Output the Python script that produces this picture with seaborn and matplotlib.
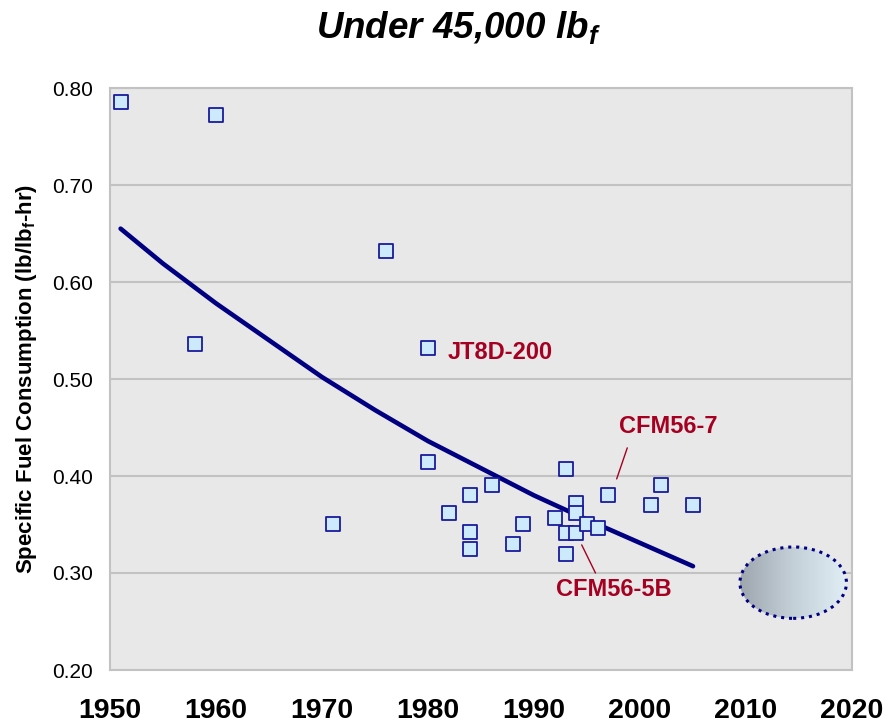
import numpy as np
import pandas as pd
import matplotlib
matplotlib.use("Agg")
import matplotlib.pyplot as plt
import seaborn as sns
from matplotlib.patches import Ellipse
from matplotlib.colors import LinearSegmentedColormap

# ---------------- data ----------------
engine_years = [1951, 1960, 1958, 1971, 1976, 1980, 1980, 1982, 1984, 1984, 1984,
                1986, 1988, 1989, 1992, 1993, 1993, 1993, 1994, 1994, 1994,
                1995, 1996, 1997, 2001, 2002, 2005]
engine_sfc = [0.786, 0.772, 0.536, 0.351, 0.632, 0.532, 0.414, 0.362, 0.380, 0.342, 0.325,
              0.391, 0.330, 0.351, 0.357, 0.407, 0.341, 0.320, 0.372, 0.362, 0.341,
              0.351, 0.346, 0.380, 0.370, 0.391, 0.370]

trend_years = [1951, 1955, 1960, 1965, 1970, 1975, 1980, 1985, 1990, 1995, 2000, 2005]
trend_sfc = [0.655, 0.619, 0.578, 0.540, 0.502, 0.468, 0.436, 0.408, 0.380, 0.355, 0.331, 0.307]

# labelled engines: text, text position, leader line (from, to)
label_names = ["JT8D-200", "CFM56-7", "CFM56-5B"]
label_x = [1981.9, 1998.0, 1992.1]
label_y = [0.527, 0.451, 0.2835]
leader_from = [None, (1997.8, 0.397), (1994.5, 0.329)]
leader_to = [None, (1998.8, 0.429), (1995.8, 0.300)]

# future goal region (centre year, centre sfc, width in years, height in sfc)
goal_x, goal_y, goal_w, goal_h = 2014.45, 0.290, 10.05, 0.0736

x_ticks = [1950, 1960, 1970, 1980, 1990, 2000, 2010, 2020]
y_ticks = [0.20, 0.30, 0.40, 0.50, 0.60, 0.70, 0.80]

df_pts = pd.DataFrame({"Year": engine_years, "SFC": engine_sfc})
df_trend = pd.DataFrame({"Year": trend_years, "SFC": trend_sfc})

# ---------------- plotting ----------------
sns.set_style("white")
plt.rcParams["font.family"] = ["Liberation Sans", "DejaVu Sans"]
plt.rcParams["text.color"] = "black"
plt.rcParams["axes.labelcolor"] = "black"

fig = plt.figure(figsize=(8.88, 7.25), dpi=100)
ax = fig.add_axes([110 / 888, 55 / 725, 742 / 888, 582 / 725])
ax.set_facecolor("#e8e8e8")

sns.lineplot(data=df_trend, x="Year", y="SFC", ax=ax, color="#000080",
             linewidth=3.3, zorder=3)
sns.scatterplot(data=df_pts, x="Year", y="SFC", ax=ax, marker="s", s=95,
                color="#cdeafc", edgecolor="#1a1a9c", linewidth=1.3, zorder=4)

# goal ellipse with left-to-right gradient
ell = Ellipse((goal_x, goal_y), goal_w, goal_h, facecolor="none",
              edgecolor="#000080", linestyle=(0, (1, 1.6)), linewidth=2.2, zorder=5)
ax.add_patch(ell)
grad_cmap = LinearSegmentedColormap.from_list("goal", ["#9ea6ae", "#c4d0d8", "#e2eef6"])
grad = np.linspace(0, 1, 256).reshape(1, -1)
img = ax.imshow(grad, cmap=grad_cmap, aspect="auto", zorder=4,
                extent=[goal_x - goal_w / 2, goal_x + goal_w / 2,
                        goal_y - goal_h / 2, goal_y + goal_h / 2])
img.set_clip_path(ell)

red = "#a50021"
for name, tx, ty, p0, p1 in zip(label_names, label_x, label_y, leader_from, leader_to):
    ax.text(tx, ty, name, color=red, fontsize=17, fontweight="bold",
            ha="left", va="center", zorder=6)
    if p0 is not None:
        ax.plot([p0[0], p1[0]], [p0[1], p1[1]], color=red, linewidth=1.0, zorder=6)

ax.set_xlim(1950, 2020)
ax.set_ylim(0.20, 0.80)
ax.set_xticks(x_ticks)
ax.set_yticks(y_ticks)
ax.set_yticklabels([f"{v:.2f}" for v in y_ticks], fontsize=15)
ax.set_xticklabels([str(v) for v in x_ticks], fontsize=20.5, fontweight="bold")

ax.yaxis.grid(True, color="#c2c2c2", linewidth=1.5)
ax.xaxis.grid(False)
ax.set_axisbelow(True)
for side in ["left", "right", "bottom", "top"]:
    ax.spines[side].set_visible(True)
    ax.spines[side].set_color("#c2c2c2")
    ax.spines[side].set_linewidth(1.5)
ax.tick_params(axis="both", direction="out", length=6, width=1.2, color="#b0b0b0",
               labelcolor="black", pad=6)
ax.tick_params(axis="x", pad=14)

ax.set_xlabel("")
ax.set_ylabel("Specific Fuel Consumption (lb/lb$_\\mathregular{f}$-hr)", fontsize=16,
              fontweight="bold", labelpad=10)

fig.text(0.516, 0.961, "Under 45,000 lb$_\\mathregular{f}$", ha="center", va="center",
         fontsize=26.5, fontweight="bold", fontstyle="italic")

fig.savefig("out.png", dpi=100)
